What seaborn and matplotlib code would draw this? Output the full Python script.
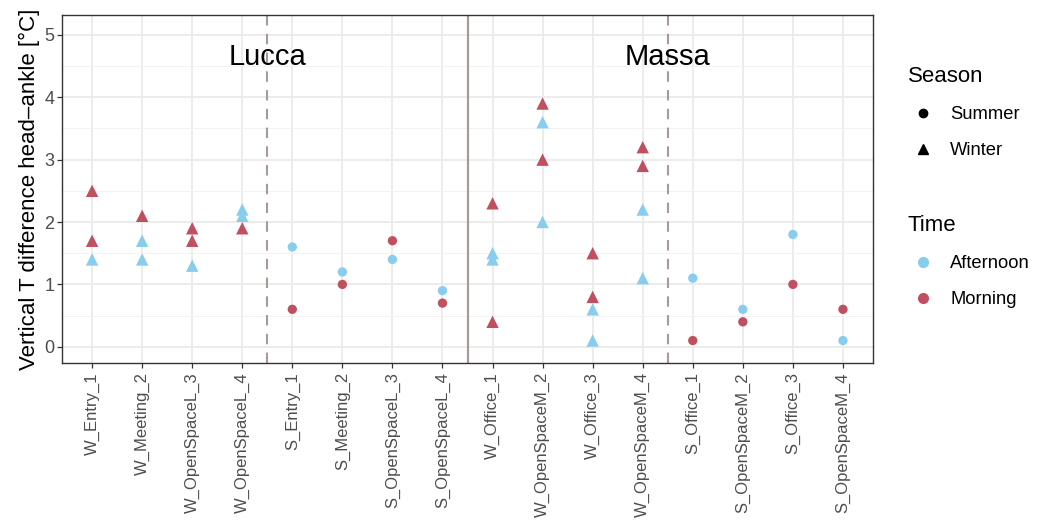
import numpy as np
import pandas as pd
import seaborn as sns
import matplotlib.pyplot as plt
from matplotlib.lines import Line2D

# Datos
ubicaciones = ["W_Entry_1", "W_Meeting_2", "W_OpenSpaceL_3", "W_OpenSpaceL_4",
               "S_Entry_1", "S_Meeting_2", "S_OpenSpaceL_3", "S_OpenSpaceL_4",
               "W_Office_1", "W_OpenSpaceM_2", "W_Office_3", "W_OpenSpaceM_4",
               "S_Office_1", "S_OpenSpaceM_2", "S_Office_3", "S_OpenSpaceM_4"]
manana = [[2.5, 1.7], [2.1], [1.9, 1.7], [1.9],
          [0.6], [1.0], [1.7], [0.7],
          [2.3, 0.4], [3.9, 3.0], [1.5, 0.8], [3.2, 2.9],
          [0.1], [0.4], [1.0], [0.6]]
tarde = [[1.4], [1.7, 1.4], [1.3], [2.2, 2.1],
         [1.6], [1.2], [1.4], [0.9],
         [1.5, 1.4], [3.6, 2.0], [0.6, 0.1], [2.2, 1.1],
         [1.1], [0.6], [1.8], [0.1]]
ciudades = ["Lucca", "Massa"]

filas = []
for loc, vm, vt in zip(ubicaciones, manana, tarde):
    temporada = "Winter" if loc.startswith("W_") else "Summer"
    for v in vt:
        filas.append((loc, v, "Afternoon", temporada))
    for v in vm:
        filas.append((loc, v, "Morning", temporada))
df = pd.DataFrame(filas, columns=["Location", "dT", "Time", "Season"])

colores = {"Afternoon": "#88CDED", "Morning": "#C0505F"}
marcadores = {"Summer": "o", "Winter": "^"}

sns.set_style("whitegrid")
plt.rcParams["font.family"] = ["Liberation Sans", "DejaVu Sans"]
plt.rcParams["text.color"] = "black"

fig = plt.figure(figsize=(10.41, 5.21), dpi=100)
ax = fig.add_axes([0.0596, 0.3033, 0.779, 0.668])

sns.scatterplot(data=df, x="Location", y="dT", hue="Time", style="Season",
                size="Season", sizes={"Summer": 45, "Winter": 80},
                palette=colores, markers=marcadores, linewidth=0,
                legend=False, ax=ax, zorder=3)

ax.set_xlim(-0.6, 15.6)
ax.set_ylim(-0.26, 5.32)
ax.set_yticks(range(6))
ax.set_yticks(np.arange(0.5, 5.5, 1), minor=True)

# Rejilla tipo theme_bw
ax.grid(True, which="major", color="#EBEBEB", linewidth=1.3)
ax.grid(True, which="minor", axis="y", color="#F2F2F2", linewidth=0.7)
ax.set_axisbelow(True)
for s in ax.spines.values():
    s.set_color("#333333")
    s.set_linewidth(1.0)

ax.tick_params(axis="both", which="major", length=3.5, width=0.9,
               color="#333333", labelcolor="#4D4D4D", bottom=True, left=True)
ax.tick_params(axis="y", which="minor", length=0)
ax.tick_params(axis="y", labelsize=13, pad=2)
ax.tick_params(axis="x", labelsize=12, labelrotation=90, pad=3)

# Separadores
ax.axvline(3.5, color="#A89A94", linestyle=(0, (5, 4)), linewidth=1.5, zorder=2)
ax.axvline(7.5, color="#A89A94", linewidth=1.6, zorder=2)
ax.axvline(11.5, color="#A89A94", linestyle=(0, (5, 4)), linewidth=1.5, zorder=2)
ax.text(3.5, 4.65, ciudades[0], ha="center", va="center", fontsize=21, color="black")
ax.text(11.5, 4.65, ciudades[1], ha="center", va="center", fontsize=21, color="black")

ax.set_xlabel("")
ax.set_ylabel("Vertical T difference head\u2013ankle [°C]", fontsize=16,
              labelpad=3, color="black")

# Leyendas
h_temp = [Line2D([], [], marker=marcadores[k], color="black", linestyle="",
                 markersize=6 if k == "Summer" else 7) for k in ["Summer", "Winter"]]
h_hora = [Line2D([], [], marker="o", color=colores[k], linestyle="",
                 markersize=7) for k in ["Afternoon", "Morning"]]
opts = dict(loc="upper left", frameon=False, fontsize=13.2, title_fontsize=16,
            handletextpad=0.7, labelspacing=1.05, alignment="left",
            handlelength=1.6, borderaxespad=0)
leg1 = ax.legend(h_temp, ["Summer", "Winter"], title="Season",
                 bbox_to_anchor=(1.034, 0.875), **opts)
ax.add_artist(leg1)
ax.legend(h_hora, ["Afternoon", "Morning"], title="Time",
          bbox_to_anchor=(1.034, 0.447), **opts)

plt.savefig("out.png", dpi=100)
